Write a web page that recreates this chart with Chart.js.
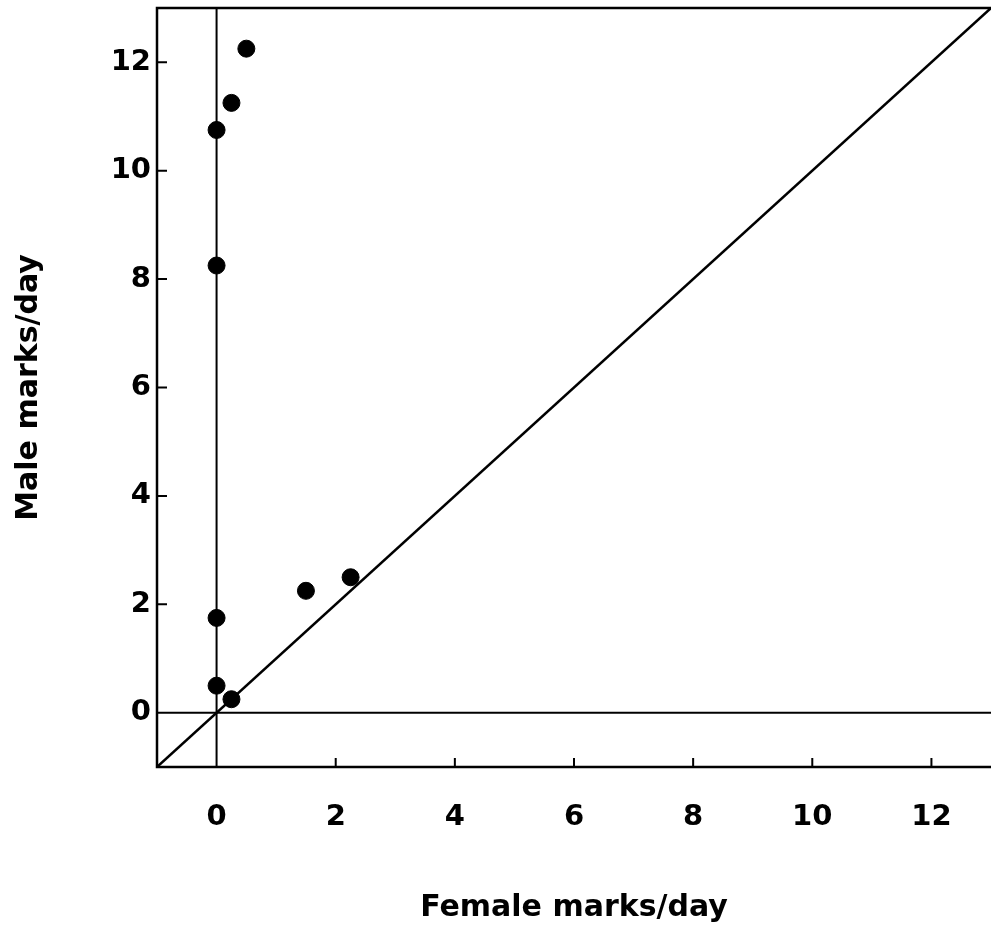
<!DOCTYPE html>
<html>
<head>
<meta charset="utf-8">
<script src="https://cdn.jsdelivr.net/npm/chart.js@4"></script>
<style>
  body { margin: 0; background: #fff; overflow: hidden; }
  canvas { display: block; }
</style>
</head>
<body>
<canvas id="marksChart" width="991" height="933"></canvas>
<script>
// marking rates per individual (female vs male marks/day)
const femaleRate = [0, 0, 0, 0, 0.25, 0.25, 0.5, 1.5, 2.25];
const maleRate = [10.75, 8.25, 1.75, 0.5, 0.25, 11.25, 12.25, 2.25, 2.5];
const tickValues = [0, 2, 4, 6, 8, 10, 12];
const axisMin = -1;
const axisMax = 13;

const points = femaleRate.map((f, i) => ({ x: f, y: maleRate[i] }));

const canvas = document.getElementById("marksChart");
const ctx = canvas.getContext("2d");

// frame (top, left, bottom) and inward ticks
const framePlugin = {
  id: "frame",
  afterDatasetsDraw(chart) {
    const c = chart.ctx;
    const a = chart.chartArea;
    const xs = chart.scales.x;
    const ys = chart.scales.y;
    c.save();
    c.strokeStyle = "#000";
    c.lineWidth = 2.5;
    c.beginPath();
    c.moveTo(a.right + 2, a.top);
    c.lineTo(a.left, a.top);
    c.lineTo(a.left, a.bottom);
    c.lineTo(a.right + 2, a.bottom);
    c.stroke();
    c.lineWidth = 2;
    c.beginPath();
    tickValues.forEach((v) => {
      if (v === 0) return;
      const px = xs.getPixelForValue(v);
      c.moveTo(px, a.bottom);
      c.lineTo(px, a.bottom - 9);
      const py = ys.getPixelForValue(v);
      c.moveTo(a.left, py);
      c.lineTo(a.left + 10, py);
    });
    c.stroke();
    c.restore();
  }
};

// no extra room for edge labels, the box is fixed
function noPad(s) {
  s.paddingTop = 0;
  s.paddingBottom = 0;
  s.paddingLeft = 0;
  s.paddingRight = 0;
}

const tickFont = { family: "DejaVu Sans", size: 29, weight: "bold" };
const titleFont = { family: "DejaVu Sans", size: 30, weight: "bold" };

new Chart(ctx, {
  type: "scatter",
  data: {
    datasets: [
      {
        label: "Individuals",
        data: points,
        backgroundColor: "#000",
        borderColor: "#000",
        pointRadius: 8.5,
        pointHoverRadius: 8.5,
        order: 0
      },
      {
        label: "Equal rate",
        type: "line",
        data: [{ x: axisMin, y: axisMin }, { x: axisMax, y: axisMax }],
        borderColor: "#000",
        borderWidth: 2.5,
        pointRadius: 0,
        order: 1
      },
      {
        label: "x = 0",
        type: "line",
        data: [{ x: 0, y: axisMin }, { x: 0, y: axisMax }],
        borderColor: "#000",
        borderWidth: 2,
        pointRadius: 0,
        order: 1
      },
      {
        label: "y = 0",
        type: "line",
        data: [{ x: axisMin, y: 0 }, { x: axisMax, y: 0 }],
        borderColor: "#000",
        borderWidth: 2,
        pointRadius: 0,
        order: 1
      }
    ]
  },
  options: {
    responsive: false,
    animation: false,
    events: [],
    layout: { autoPadding: false, padding: { left: 7, top: 8, right: 0, bottom: 3 } },
    plugins: {
      legend: { display: false },
      tooltip: { enabled: false }
    },
    scales: {
      x: {
        type: "linear",
        min: axisMin,
        max: axisMax,
        afterBuildTicks: (s) => { s.ticks = tickValues.map((v) => ({ value: v })); },
        afterFit: (s) => { s.height = 163; noPad(s); },
        grid: { display: false, drawTicks: false },
        border: { display: false },
        ticks: { color: "#000", font: tickFont, padding: 33, maxRotation: 0 },
        title: { display: true, text: "Female marks/day", color: "#000", font: titleFont }
      },
      y: {
        type: "linear",
        min: axisMin,
        max: axisMax,
        afterBuildTicks: (s) => { s.ticks = tickValues.map((v) => ({ value: v })); },
        afterFit: (s) => { s.width = 150; noPad(s); },
        grid: { display: false, drawTicks: false },
        border: { display: false },
        ticks: { color: "#000", font: tickFont, padding: 6 },
        title: { display: true, text: "Male marks/day", color: "#000", font: titleFont }
      }
    }
  },
  plugins: [framePlugin]
});
</script>
</body>
</html>
